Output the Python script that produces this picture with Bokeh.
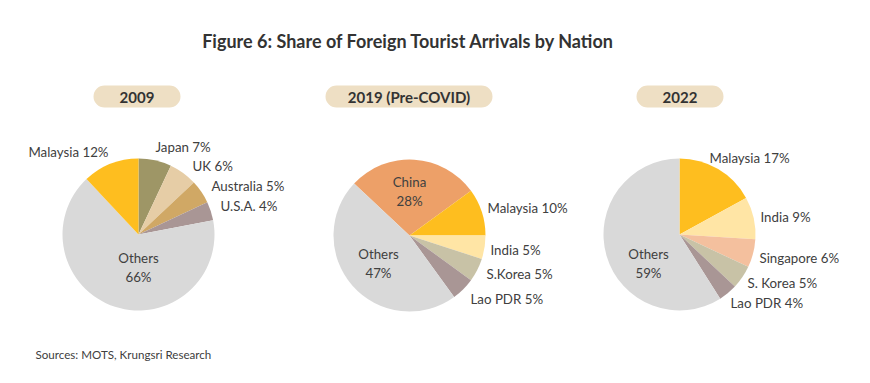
import math
from bokeh.plotting import figure
from bokeh.models import Range1d
from bokeh.core.properties import value
from bokeh.embed import file_html
from bokeh.resources import INLINE

# ---------------- data ----------------
title_text = "Figure 6: Share of Foreign Tourist Arrivals by Nation"
source_text = "Sources: MOTS, Krungsri Research"

years = ["2009", "2019 (Pre-COVID)", "2022"]

names_2009 = ["Japan", "UK", "Australia", "U.S.A.", "Others", "Malaysia"]
shares_2009 = [7, 6, 5, 4, 66, 12]

names_2019 = ["China", "Malaysia", "India", "S.Korea", "Lao PDR", "Others"]
shares_2019 = [28, 10, 5, 5, 5, 47]

names_2022 = ["Malaysia", "India", "Singapore", "S. Korea", "Lao PDR", "Others"]
shares_2022 = [17, 9, 6, 5, 4, 59]

# ---------------- styles / layout ----------------
W, H = 854, 367
FONT = "Lato"
TXT = "#404040"

colors_2009 = ["#9E9666", "#E6CDA6", "#D0A865", "#A99695", "#D9D9D9", "#FEBE1F"]
colors_2019 = ["#EDA068", "#FEBE1F", "#FFE5A5", "#C8C2A6", "#A99695", "#D9D9D9"]
colors_2022 = ["#FEBE1F", "#FFE5A5", "#F4C09E", "#C8C2A6", "#A99695", "#D9D9D9"]

# pie centre (page px), start angle (deg), pill extents
pies = [
    dict(cx=138, cy=234, start=90.0, names=names_2009, vals=shares_2009, cols=colors_2009,
         pill=(93, 180),
         inside=["Others"],
         lab=[(17, -88, "left"), (54, -69, "left"), (73, -49, "left"), (82, -29, "left"),
              (0, 33, "center"), (-30, -83, "right")]),
    dict(cx=409, cy=235, start=136.8, names=names_2019, vals=shares_2019, cols=colors_2019,
         pill=(325, 492),
         inside=["Others", "China"],
         lab=[(0, -44, "center"), (78, -28, "left"), (81, 14, "left"), (77, 38, "left"),
              (61, 63, "left"), (-31, 28, "center")]),
    dict(cx=679, cy=234, start=90.0, names=names_2022, vals=shares_2022, cols=colors_2022,
         pill=(636, 723),
         inside=["Others"],
         lab=[(30, -77, "left"), (81, -18, "left"), (80, 23, "left"), (68, 48, "left"),
              (51, 68, "left"), (-31, 29, "center")]),
]
R = 76


def Y(py):
    return 383 - py


p = figure(width=W, height=H, x_range=Range1d(0, W), y_range=Range1d(383 - H, 383),
           output_backend="svg", toolbar_location=None, min_border=0)
p.axis.visible = False
p.grid.visible = False
p.outline_line_color = None
p.background_fill_color = "white"
p.border_fill_color = "white"

# title
p.text(x=[408], y=[Y(40)], text=[title_text], text_font=value(FONT), text_font_style="bold",
       text_font_size="18px", text_color="#333333", text_align="center", text_baseline="middle")

# source
p.text(x=[35], y=[Y(354)], text=[source_text], text_font=value(FONT),
       text_font_size="11.6px", text_color=TXT, text_align="left", text_baseline="middle")

for yr, pie in zip(years, pies):
    cx, cy = pie["cx"], Y(pie["cy"])
    # pill
    l, r = pie["pill"]
    p.quad(left=[l], right=[r], bottom=[Y(107)], top=[Y(85)], fill_color="#EEDFC4",
           line_color=None, border_radius=11)
    p.text(x=[(l + r) / 2], y=[Y(96.5)], text=[yr], text_font=value(FONT), text_font_style="bold",
           text_font_size="15px", text_color="#333333", text_align="center", text_baseline="middle")
    # wedges (clockwise from start angle)
    total = float(sum(pie["vals"]))
    cum = 0.0
    starts, ends = [], []
    for v in pie["vals"]:
        a0 = math.radians(pie["start"] - 360 * cum / total)
        cum += v
        a1 = math.radians(pie["start"] - 360 * cum / total)
        starts.append(a1)
        ends.append(a0)
    p.wedge(x=[cx] * len(starts), y=[cy] * len(starts), radius=R, start_angle=starts,
            end_angle=ends, direction="anticlock", fill_color=pie["cols"], line_color=None)
    # labels
    for name, v, (dx, dy, al) in zip(pie["names"], pie["vals"], pie["lab"]):
        if name in pie["inside"]:
            t = f"{name}\n{v}%"
        else:
            t = f"{name} {v}%"
        p.text(x=[cx + dx], y=[cy - dy], text=[t], text_font=value(FONT), text_font_size="13.3px",
               text_color=TXT, text_align=al, text_baseline="middle", text_line_height=1.15)

open("out.html", "w").write(file_html(p, INLINE))
